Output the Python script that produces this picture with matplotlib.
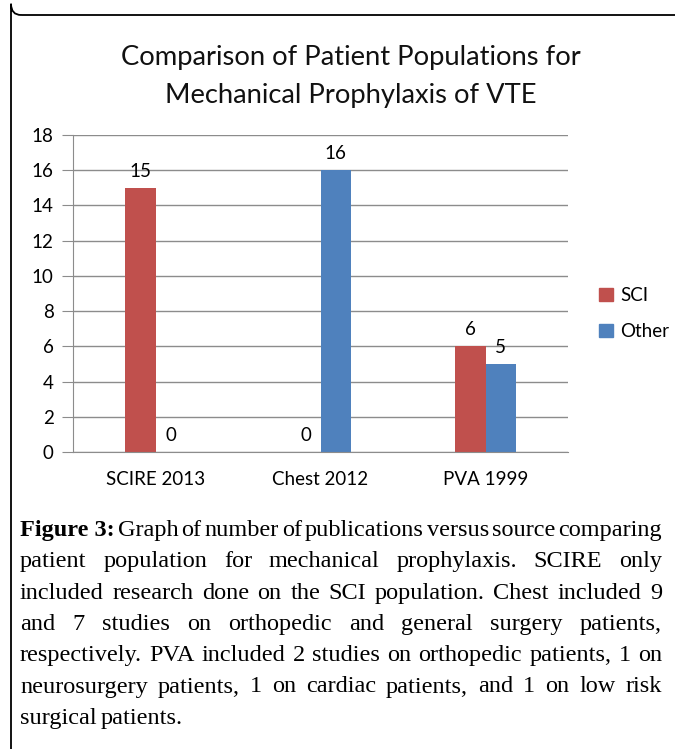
import matplotlib
matplotlib.use("Agg")
import matplotlib.pyplot as plt
from matplotlib.patches import FancyBboxPatch, Patch

# chart data
categories = ["SCIRE 2013", "Chest 2012", "PVA 1999"]
sci_counts = [15, 0, 6]
other_counts = [0, 16, 5]
series_names = ["SCI", "Other"]
y_ticks = [0, 2, 4, 6, 8, 10, 12, 14, 16, 18]

title_lines = ["Comparison of Patient Populations for",
               "Mechanical Prophylaxis of VTE"]
caption_label = "Figure 3:"
caption_lines = [
    "Graph of number of publications versus source comparing",
    "patient population for mechanical prophylaxis. SCIRE only",
    "included research done on the SCI population. Chest included 9",
    "and 7 studies on orthopedic and general surgery patients,",
    "respectively. PVA included 2 studies on orthopedic patients, 1 on",
    "neurosurgery patients, 1 on cardiac patients, and 1 on low risk",
    "surgical patients.",
]

W, H = 675, 749
red = "#C0504D"
blue = "#4F81BD"
sans = ["Lato", "DejaVu Sans"]

fig = plt.figure(figsize=(W / 100, H / 100), dpi=100)


def px(x, y):
    return x / W, 1 - y / H


# rounded frame around the figure panel
frame = FancyBboxPatch(px(11, 15), (700 - 11) / W, -(800 - 15) / H,
                       boxstyle="round,pad=0,rounding_size=0.015",
                       transform=fig.transFigure, fill=False,
                       edgecolor="black", linewidth=1.3)
fig.patches.append(frame)

for i, line in enumerate(title_lines):
    fig.text(*px(351, 57 + i * 38), line, ha="center", va="center",
             fontsize=19.7, family=sans, color="#111111")

# plot area
left, top = px(73, 135)
right, bottom = px(568, 452)
ax = fig.add_axes([left, bottom, right - left, top - bottom])

x = range(len(categories))
bw = 0.182
b1 = ax.bar([i - bw / 2 for i in x], sci_counts, bw, color=red, label=series_names[0])
b2 = ax.bar([i + bw / 2 for i in x], other_counts, bw, color=blue, label=series_names[1])

for bars in (b1, b2):
    for rect in bars:
        v = rect.get_height()
        ax.text(rect.get_x() + rect.get_width() / 2, v + 0.45, f"{v:g}",
                ha="center", va="bottom", fontsize=13.5, family=sans)

ax.set_xlim(-0.5, len(categories) - 0.5)
ax.set_ylim(0, 18)
ax.set_yticks(y_ticks)
ax.set_xticks(list(x))
ax.set_xticklabels(categories, fontsize=13.5, family=sans)
for lab in ax.get_yticklabels():
    lab.set_fontsize(13.5)
    lab.set_family(sans)
ax.tick_params(axis="y", length=8, color="#8c8c8c", pad=6)
ax.tick_params(axis="x", length=0, pad=14)
ax.grid(axis="y", color="#8c8c8c", linewidth=1)
ax.set_axisbelow(True)
for side in ("top", "right"):
    ax.spines[side].set_visible(False)
ax.spines["left"].set_color("#8c8c8c")
ax.spines["bottom"].set_color("#8c8c8c")

fig.legend(handles=[Patch(color=red), Patch(color=blue)], labels=series_names,
           loc="upper left", bbox_to_anchor=px(590, 278), frameon=False,
           prop={"family": sans, "size": 13.5},
           handlelength=0.7, handleheight=0.7, handletextpad=0.4,
           labelspacing=1.0, borderpad=0)

# justified caption
renderer = fig.canvas.get_renderer()
cap_left, cap_right = 20, 662
serif = ["Liberation Serif", "DejaVu Serif"]
fs = 17.5
base_y = 536
step = 31.3
for li, line in enumerate(caption_lines):
    y = base_y + li * step
    words = line.split(" ")
    items = []
    if li == 0:
        items.append(fig.text(0, 0, caption_label, fontsize=fs, family=serif,
                              weight="bold", va="baseline"))
    for w in words:
        items.append(fig.text(0, 0, w, fontsize=fs, family=serif, va="baseline"))
    widths = [t.get_window_extent(renderer).width for t in items]
    if li < len(caption_lines) - 1:
        gap = (cap_right - cap_left - sum(widths)) / (len(items) - 1)
    else:
        gap = fs * 0.25
    xpos = cap_left
    for t, w in zip(items, widths):
        t.set_position(px(xpos, y))
        xpos += w + gap

fig.savefig("out.png", dpi=100)
